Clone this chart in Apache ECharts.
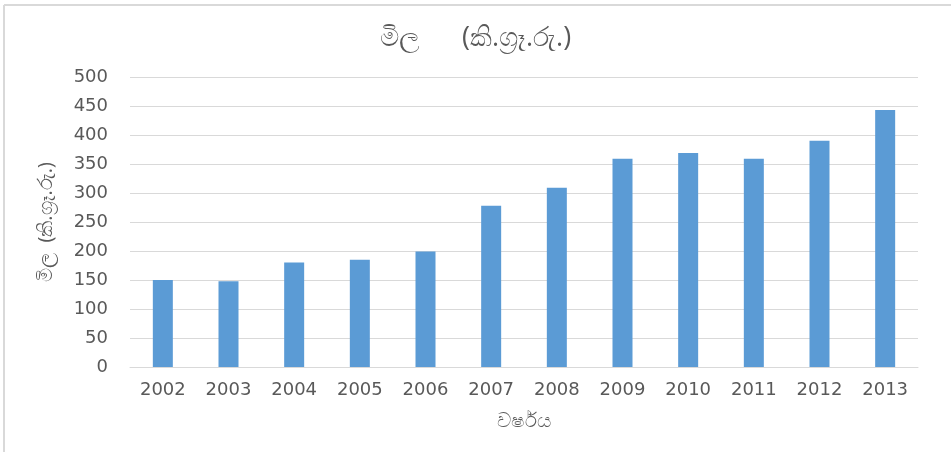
<!DOCTYPE html>
<html>
<head>
<meta charset="utf-8">
<script src="https://cdn.jsdelivr.net/npm/echarts@6/dist/echarts.min.js"></script>
<style>
html,body{margin:0;padding:0;background:#fff;}
#chart{width:951px;height:452px;}
</style>
</head>
<body>
<div id="chart"></div>
<script>
const titleText = 'මිල      (කි.ග්‍රෑ.රු.)';
const yAxisName = 'මිල  (කි.ග්‍රෑ.රු.)';
const xAxisName = 'වර්ෂය';
const years = ['2002','2003','2004','2005','2006','2007','2008','2009','2010','2011','2012','2013'];
const prices = [150, 148, 180, 185, 199, 278, 309, 359, 369, 359, 390, 443];
const yTicks = {min: 0, max: 500, interval: 50};

const chart = echarts.init(document.getElementById('chart'));
const fontFam = '"Open Sans", "Noto Sans", sans-serif';
const numFam = '"DejaVu Sans", sans-serif';
chart.setOption({
  backgroundColor: '#fff',
  animation: false,
  title: {
    text: titleText,
    left: 'center',
    top: 20,
    textStyle: {fontSize: 27, fontWeight: 'normal', color: '#595959', fontFamily: fontFam}
  },
  graphic: [
    {type: 'line', shape: {x1: 4, y1: 5, x2: 951, y2: 5}, style: {stroke: '#d9d9d9', lineWidth: 2}},
    {type: 'line', shape: {x1: 4, y1: 5, x2: 4, y2: 452}, style: {stroke: '#d9d9d9', lineWidth: 2}}
  ],
  grid: {left: 130, right: 33, top: 77, bottom: 85, containLabel: false},
  xAxis: {
    type: 'category',
    data: years,
    name: xAxisName,
    nameLocation: 'middle',
    nameGap: 44,
    nameTextStyle: {fontSize: 20, color: '#595959', fontFamily: fontFam},
    axisLine: {lineStyle: {color: '#d9d9d9', width: 1}},
    axisTick: {show: false},
    axisLabel: {fontSize: 18, color: '#595959', margin: 14, fontFamily: numFam}
  },
  yAxis: {
    type: 'value',
    min: yTicks.min,
    max: yTicks.max,
    interval: yTicks.interval,
    name: yAxisName,
    nameLocation: 'middle',
    nameRotate: 90,
    nameGap: 74,
    nameTextStyle: {fontSize: 20, color: '#595959', fontFamily: fontFam},
    axisLine: {show: false},
    axisTick: {show: false},
    splitLine: {lineStyle: {color: '#d9d9d9', width: 1}},
    axisLabel: {fontSize: 18, color: '#595959', margin: 22, fontFamily: numFam}
  },
  series: [{
    type: 'bar',
    data: prices,
    barWidth: 20,
    itemStyle: {color: '#5b9bd5'}
  }]
});
</script>
</body>
</html>
